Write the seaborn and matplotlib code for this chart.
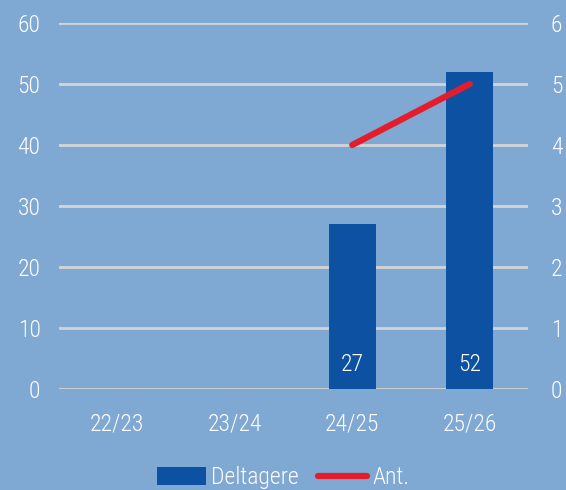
import pandas as pd
import numpy as np
import matplotlib.pyplot as plt
import seaborn as sns

# data
seasons = ['22/23', '23/24', '24/25', '25/26']
deltagere = [np.nan, np.nan, 27, 52]
antal = [np.nan, np.nan, 4, 5]

bg = '#7fa8d2'
bar_color = '#0d52a2'
line_color = '#e31d2b'
grid_color = '#d4d4d4'
fs = 17

sns.set_theme(style='white')
plt.rcParams['font.family'] = ['Roboto Condensed', 'Liberation Sans Narrow',
                               'DejaVu Sans']
plt.rcParams['font.weight'] = 'light'

df = pd.DataFrame({'Season': seasons, 'Deltagere': deltagere, 'Ant': antal})

fig = plt.figure(figsize=(5.66, 4.9), dpi=100, facecolor=bg)
ax = fig.add_axes([0.1034, 0.2061, 0.8303, 0.7470])
ax.set_facecolor(bg)

sns.barplot(data=df, x='Season', y='Deltagere', color=bar_color, width=0.4,
            saturation=1, ax=ax, zorder=3, label='Deltagere', linewidth=0)
if ax.get_legend() is not None:
    ax.get_legend().remove()
ax.set_ylim(0, 60)
ax.set_yticks(range(0, 61, 10))
ax.set_xlim(-0.5, 3.5)
ax.yaxis.grid(True, color=grid_color, linewidth=2, zorder=0)
ax.set_axisbelow(True)
for s in ax.spines.values():
    s.set_visible(False)
ax.set_xlabel('')
ax.set_ylabel('')
ax.tick_params(axis='y', colors='white', labelsize=fs, length=0, pad=13)
ax.tick_params(axis='x', colors='white', labelsize=fs, length=0, pad=17)

# value labels in bars
for i, v in enumerate(deltagere):
    if not np.isnan(v):
        ax.text(i, 4.0, f'{v:.0f}', color='white', ha='center', va='center',
                fontsize=fs, zorder=5)

ax2 = ax.twinx()
x_pos = np.arange(len(seasons))
sns.lineplot(x=x_pos, y=antal, color=line_color, linewidth=4.5, ax=ax2,
             solid_capstyle='round', label='Ant.', legend=False)
ax2.set_ylim(0, 6)
ax2.set_yticks(range(0, 7))
for s in ax2.spines.values():
    s.set_visible(False)
ax2.set_ylabel('')
ax2.tick_params(axis='y', colors='white', labelsize=fs, length=0, pad=16)

h1, l1 = ax.get_legend_handles_labels()
h2, l2 = ax2.get_legend_handles_labels()
leg = fig.legend(h1 + h2, ['Deltagere', 'Ant.'], loc='lower center',
                 bbox_to_anchor=(0.5, -0.042), ncol=2, frameon=False,
                 handlelength=2.1, handleheight=0.75, handletextpad=0.2,
                 columnspacing=0.8, fontsize=fs)
for t in leg.get_texts():
    t.set_color('white')

fig.savefig('out.png', dpi=100, facecolor=bg)
